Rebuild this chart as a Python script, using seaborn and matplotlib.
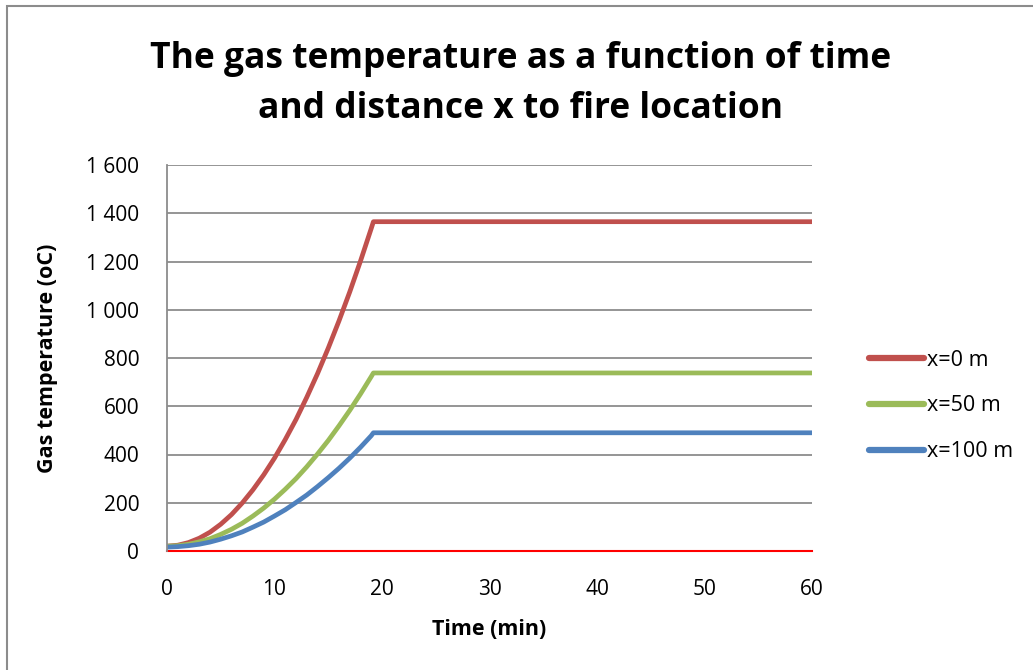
import matplotlib
matplotlib.use("Agg")
import matplotlib.pyplot as plt
import matplotlib.patches as mpatches
from matplotlib.ticker import FuncFormatter
import seaborn as sns
import pandas as pd

# ---- data ----
time_min = [0, 1, 2, 3, 4, 5, 6, 7, 8, 9, 10, 11, 12, 13, 14, 15, 16, 17, 18, 19, 19.2, 60]
temp_x0 = [20, 24, 35, 53, 78, 111, 151, 199, 254, 316, 385, 462, 545, 637, 735, 841, 954, 1074, 1202, 1337, 1365, 1365]
temp_x50 = [20, 22, 28, 38, 51, 69, 90, 115, 145, 178, 215, 256, 300, 349, 402, 458, 519, 583, 651, 723, 738, 738]
temp_x100 = [16, 18, 22, 28, 37, 49, 63, 79, 99, 120, 145, 171, 201, 232, 267, 304, 343, 385, 430, 478, 490, 490]
series_names = ["x=0 m", "x=50 m", "x=100 m"]
colors = ["#C0504D", "#9BBB59", "#4F81BD"]
x_ticks = [0, 10, 20, 30, 40, 50, 60]
y_ticks = [0, 200, 400, 600, 800, 1000, 1200, 1400, 1600]
title = "The gas temperature as a function of time\nand distance x to fire location"
x_label = "Time (min)"
y_label = "Gas temperature (oC)"

rows = []
for name, vals in zip(series_names, [temp_x0, temp_x50, temp_x100]):
    for t, v in zip(time_min, vals):
        rows.append({"Time": t, "Temp": v, "Series": name})
df = pd.DataFrame(rows)

sns.set_theme(style="white")
plt.rcParams["font.family"] = ["Open Sans", "DejaVu Sans"]
plt.rcParams["text.color"] = "black"
plt.rcParams["axes.labelcolor"] = "black"

fig = plt.figure(figsize=(10.33, 6.70), dpi=100)
ax = fig.add_axes([167 / 1033, 1 - 551 / 670, (812 - 167) / 1033, (551 - 165) / 670])

sns.lineplot(data=df, x="Time", y="Temp", hue="Series", palette=colors,
             hue_order=series_names, linewidth=3.4, ax=ax, sort=False,
             solid_joinstyle="round", solid_capstyle="round")

ax.set_xlim(0, 60)
ax.set_ylim(0, 1600)
ax.set_xticks(x_ticks)
ax.set_yticks(y_ticks)
ax.yaxis.set_major_formatter(FuncFormatter(lambda v, p: f"{int(v):,}".replace(",", " ")))
ax.grid(axis="y", color="#8C8C8C", linewidth=1.3)
ax.grid(axis="x", visible=False)
ax.set_axisbelow(True)
for s in ["top", "right"]:
    ax.spines[s].set_visible(False)
ax.spines["left"].set_color("#8C8C8C")
ax.spines["left"].set_linewidth(1.3)
ax.spines["bottom"].set_color("#FF0000")
ax.spines["bottom"].set_linewidth(1.5)
ax.spines["bottom"].set_zorder(1.5)
ax.tick_params(axis="both", length=0, labelsize=15, colors="black")
ax.tick_params(axis="y", pad=20)
ax.tick_params(axis="x", pad=20)

ax.set_xlabel(x_label, fontsize=15.5, fontweight="bold", labelpad=14, color="black")
ax.set_ylabel(y_label, fontsize=15.5, fontweight="bold", labelpad=20, color="black")

fig.text(521 / 1033, 1 - 84 / 670, title, ha="center", va="center",
         fontsize=25.5, fontweight="bold", linespacing=1.5, color="black")

leg = ax.legend(loc="center left", bbox_to_anchor=(1.058, 0.376), frameon=False,
                fontsize=15.5, handlelength=2.55, handletextpad=0.15, labelspacing=1.15)
for h in leg.get_lines():
    h.set_linewidth(4.5)
for t in leg.get_texts():
    t.set_color("black")

border = mpatches.Rectangle((7 / 1033, -0.1), 1.2, 1 - 6 / 670 + 0.1,
                            transform=fig.transFigure, fill=False,
                            edgecolor="#8C8C8C", linewidth=1.5)
fig.patches.append(border)

fig.savefig("out.png", dpi=100)
